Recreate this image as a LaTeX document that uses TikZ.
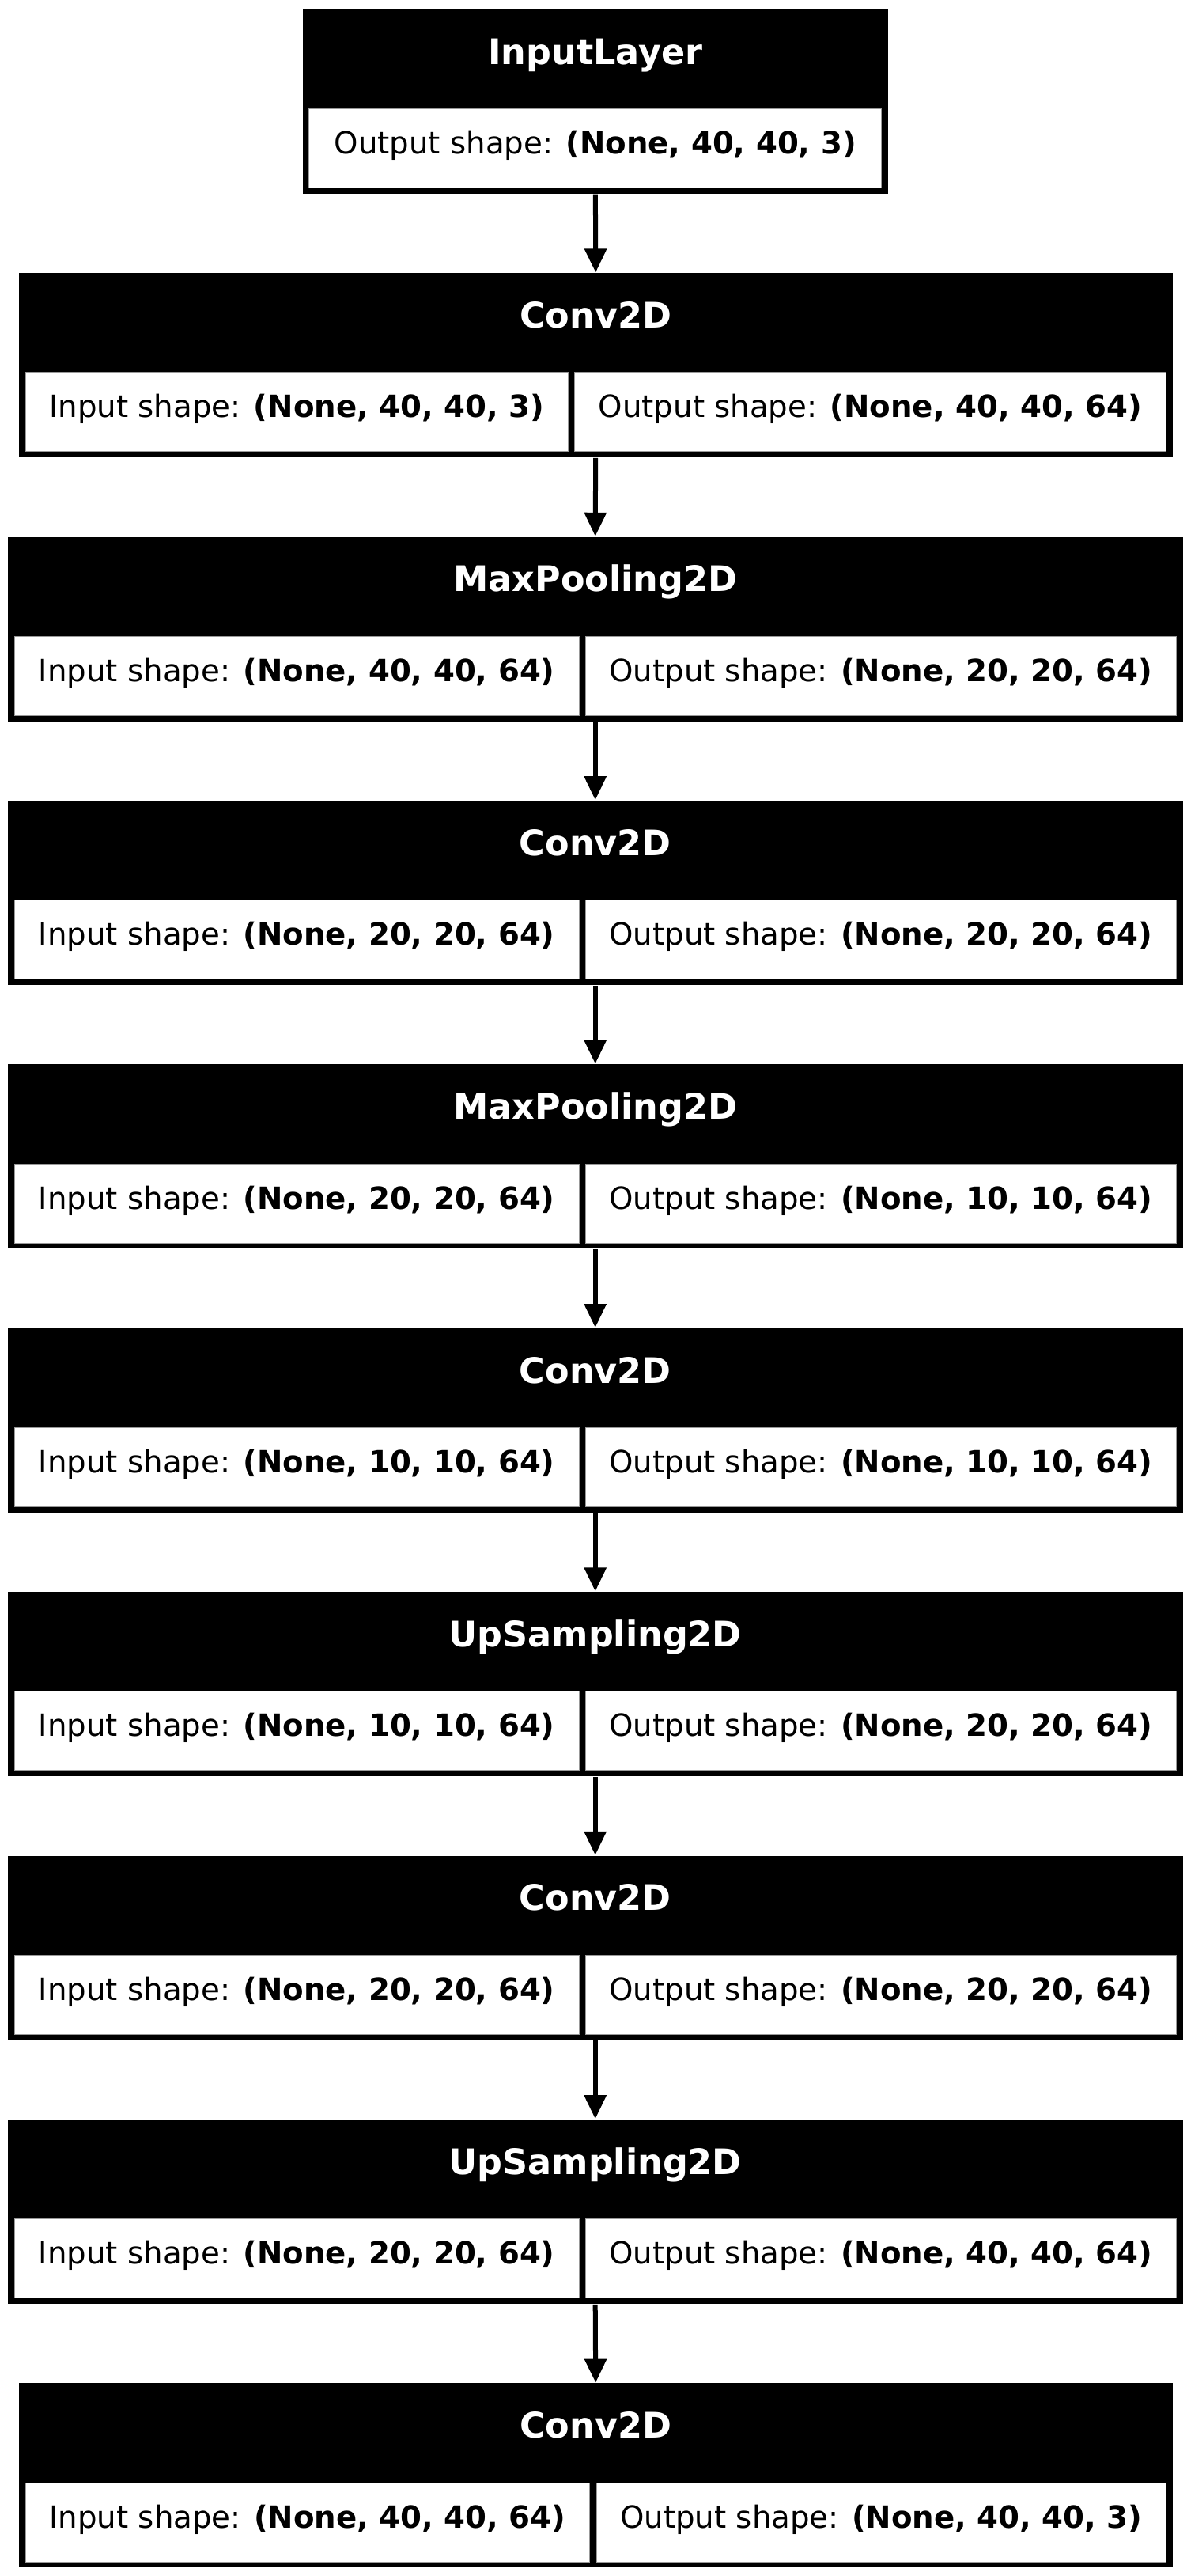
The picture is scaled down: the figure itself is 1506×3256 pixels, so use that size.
\documentclass[tikz,border=0pt]{standalone}
\usepackage{fontspec}
\setmainfont{DejaVu Sans}
\usetikzlibrary{arrows.meta}
\tikzset{
  layerbox/.style={fill=black, inner sep=0pt, anchor=north west, minimum height=2.33cm},
  cellbox/.style={fill=white, draw=black!40, line width=0.01cm, inner sep=0pt, anchor=north west,
                  minimum height=1cm, text height=0.28cm, text depth=0.14cm,
                  font=\fontsize{11}{13}\selectfont},
  ltitle/.style={text=white, anchor=base, inner sep=0pt, font=\fontsize{12.65}{15}\selectfont\bfseries},
  flow/.style={-{Triangle[length=0.30cm,width=0.27cm]}, line width=0.06cm}
}
\begin{document}
\begin{tikzpicture}[x=0.01cm, y=-0.01cm]
\useasboundingbox (0,0) rectangle (1506,3256);

% input layer
\node[layerbox, minimum width=7.40cm] (l0) at (382,11) {};
\node[ltitle] (t0) at ([yshift=-0.70cm]l0.north) {InputLayer};
\node[cellbox, minimum width=7.24cm] (o0) at (390,137) {Output shape: \textbf{(None, 40, 40, 3)}};

% layers (left/right edge, cell split)
\foreach \i/\ttl/\lft/\rgt/\ca/\cb/\inp/\outp in {
  1/Conv2D/23/1482/718/726/{40, 40, 3}/{40, 40, 64},
  2/MaxPooling2D/9/1495/732/740/{40, 40, 64}/{20, 20, 64},
  3/Conv2D/9/1495/732/740/{20, 20, 64}/{20, 20, 64},
  4/MaxPooling2D/9/1495/732/740/{20, 20, 64}/{10, 10, 64},
  5/Conv2D/9/1495/732/740/{10, 10, 64}/{10, 10, 64},
  6/UpSampling2D/9/1495/732/740/{10, 10, 64}/{20, 20, 64},
  7/Conv2D/9/1495/732/740/{20, 20, 64}/{20, 20, 64},
  8/UpSampling2D/9/1495/732/740/{20, 20, 64}/{40, 40, 64},
  9/Conv2D/23/1482/745/754/{40, 40, 64}/{40, 40, 3}}
{
  \pgfmathsetmacro{\ty}{11+333.4*\i}
  \node[layerbox, minimum width={(\rgt-\lft)*0.01cm}] (l\i) at (\lft,\ty) {};
  \node[ltitle] (t\i) at ([yshift=-0.70cm]l\i.north) {\ttl};
  \node[cellbox, minimum width={(\ca-\lft-8.5)*0.01cm}] (in\i) at (\lft+8.5,\ty+126)
    {Input shape: \textbf{(None, \inp)}};
  \node[cellbox, minimum width={(\rgt-8.5-\cb)*0.01cm}] (out\i) at (\cb,\ty+126)
    {Output shape: \textbf{(None, \outp)}};
}

% arrows
\foreach \i [count=\j from 1] in {0,...,8}
  \draw[flow] (l\i.south) -- (l\j.north);
\end{tikzpicture}
\end{document}
